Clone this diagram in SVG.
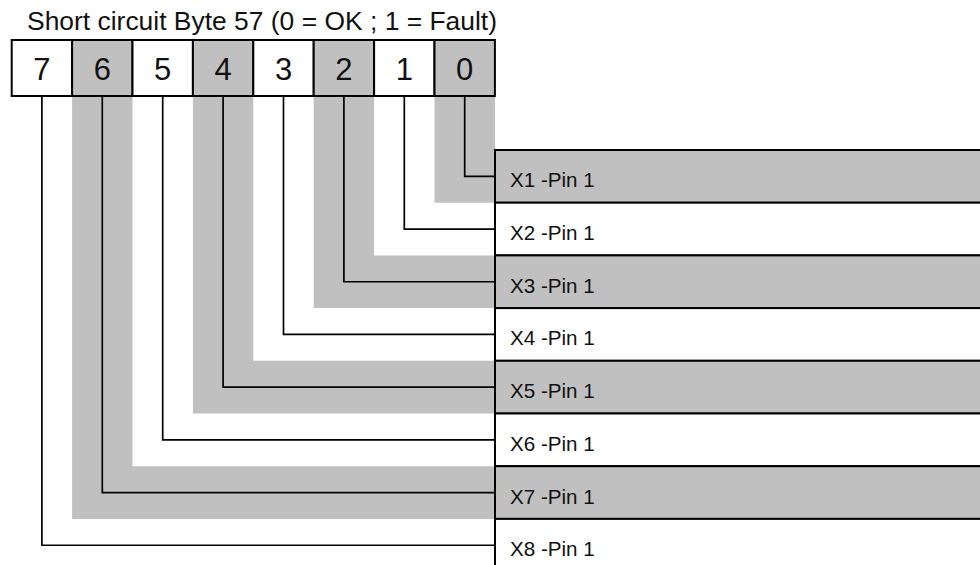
<svg xmlns="http://www.w3.org/2000/svg" width="980" height="565" viewBox="0 0 980 565">
  <style>
    .txt { font-family: "Liberation Sans", Arial, sans-serif; fill: #111; }
    .title { font-size: 26.4px; }
    .digit { font-size: 31px; text-anchor: middle; }
    .lbl { font-size: 20.6px; }
    .cell { stroke: #000; stroke-width: 2; }
    .white { fill: #fff; }
    .gray { fill: #c0c0c0; }
    .band { fill: #c0c0c0; stroke: none; }
    .wire { fill: none; stroke: #000; stroke-width: 1.7; }
    .row { stroke: #000; stroke-width: 2; }
  </style>
  <rect x="0" y="0" width="980" height="565" fill="#fff"/>

  <text id="title" class="txt title" x="27" y="30" textLength="470" lengthAdjust="spacingAndGlyphs">Short circuit Byte 57 (0 = OK ; 1 = Fault)</text>

  <g id="bands">
    <path class="band" d="M72.1,96 H132.5 V466.2 H495 V518.9 H72.1 Z"/>
    <path class="band" d="M192.9,96 H253.3 V360.8 H495 V413.5 H192.9 Z"/>
    <path class="band" d="M313.7,96 H374.1 V255.4 H495 V308.1 H313.7 Z"/>
    <path class="band" d="M434.5,96 H495 V202.7 H434.5 Z"/>
  </g>

  <g id="connectors">
    <path class="wire" d="M41.9,96 V545.25 H495"/>
    <path class="wire" d="M102.3,96 V492.55 H495"/>
    <path class="wire" d="M162.7,96 V439.85 H495"/>
    <path class="wire" d="M223.1,96 V387.15 H495"/>
    <path class="wire" d="M283.5,96 V334.45 H495"/>
    <path class="wire" d="M343.9,96 V281.75 H495"/>
    <path class="wire" d="M404.3,96 V229.05 H495"/>
    <path class="wire" d="M464.7,96 V176.35 H495"/>
  </g>

  <g id="byte">
    <g id="bit7"><rect class="cell white" x="11.7" y="40" width="60.4" height="56"/><text class="txt digit" x="41.9" y="79.5">7</text></g>
    <g id="bit6"><rect class="cell gray" x="72.1" y="40" width="60.4" height="56"/><text class="txt digit" x="102.3" y="79.5">6</text></g>
    <g id="bit5"><rect class="cell white" x="132.5" y="40" width="60.4" height="56"/><text class="txt digit" x="162.7" y="79.5">5</text></g>
    <g id="bit4"><rect class="cell gray" x="192.9" y="40" width="60.4" height="56"/><text class="txt digit" x="223.1" y="79.5">4</text></g>
    <g id="bit3"><rect class="cell white" x="253.3" y="40" width="60.4" height="56"/><text class="txt digit" x="283.5" y="79.5">3</text></g>
    <g id="bit2"><rect class="cell gray" x="313.7" y="40" width="60.4" height="56"/><text class="txt digit" x="343.9" y="79.5">2</text></g>
    <g id="bit1"><rect class="cell white" x="374.1" y="40" width="60.4" height="56"/><text class="txt digit" x="404.3" y="79.5">1</text></g>
    <g id="bit0"><rect class="cell gray" x="434.5" y="40" width="60.4" height="56"/><text class="txt digit" x="464.7" y="79.5">0</text></g>
  </g>

  <g id="pins">
    <g id="x1"><rect class="row gray" x="495" y="150" width="500" height="52.7"/><text class="txt lbl" x="510" y="187.3">X1 -Pin 1</text></g>
    <g id="x2"><rect class="row white" x="495" y="202.7" width="500" height="52.7"/><text class="txt lbl" x="510" y="240">X2 -Pin 1</text></g>
    <g id="x3"><rect class="row gray" x="495" y="255.4" width="500" height="52.7"/><text class="txt lbl" x="510" y="292.7">X3 -Pin 1</text></g>
    <g id="x4"><rect class="row white" x="495" y="308.1" width="500" height="52.7"/><text class="txt lbl" x="510" y="345.4">X4 -Pin 1</text></g>
    <g id="x5"><rect class="row gray" x="495" y="360.8" width="500" height="52.7"/><text class="txt lbl" x="510" y="398.1">X5 -Pin 1</text></g>
    <g id="x6"><rect class="row white" x="495" y="413.5" width="500" height="52.7"/><text class="txt lbl" x="510" y="450.8">X6 -Pin 1</text></g>
    <g id="x7"><rect class="row gray" x="495" y="466.2" width="500" height="52.7"/><text class="txt lbl" x="510" y="503.5">X7 -Pin 1</text></g>
    <g id="x8"><rect class="row white" x="495" y="518.9" width="500" height="52.7"/><text class="txt lbl" x="510" y="556.2">X8 -Pin 1</text></g>
  </g>
</svg>
